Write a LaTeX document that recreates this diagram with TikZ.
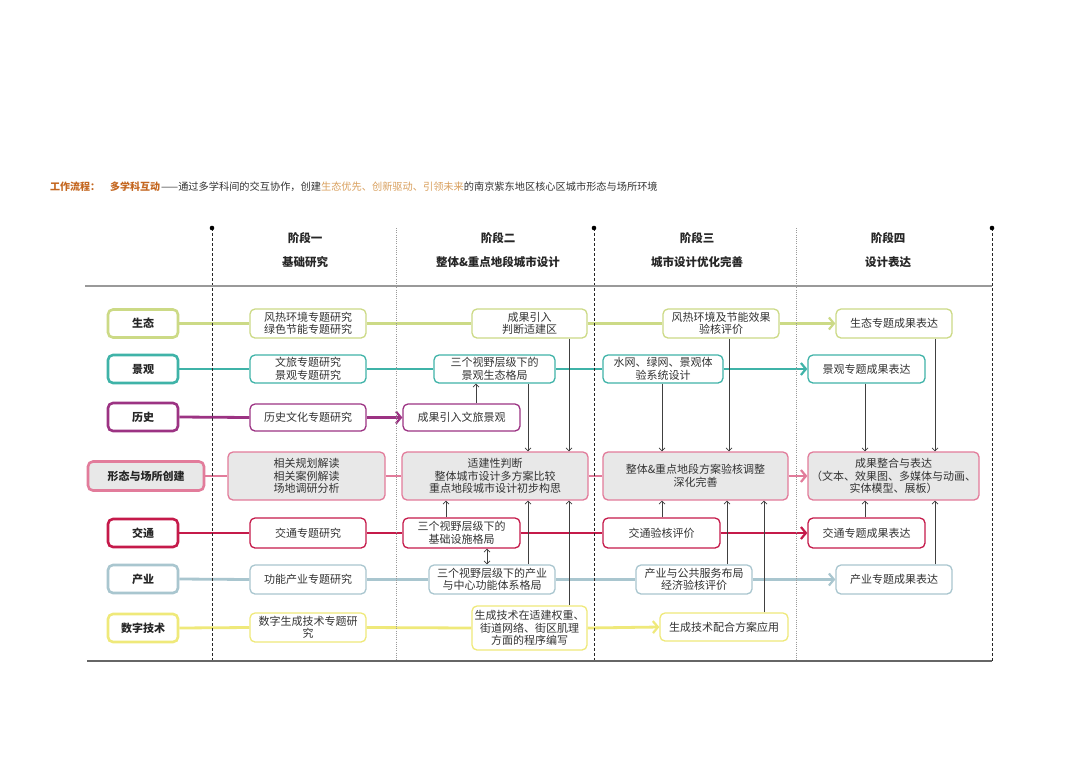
\documentclass[tikz,border=0pt]{standalone}
\usepackage{fontspec}
\setmainfont{Noto Sans CJK SC}
\usetikzlibrary{arrows.meta}
\pgfdeclarelayer{bg}
\pgfsetlayers{bg,main}
\definecolor{cEco}{HTML}{CCDA86}
\definecolor{cLand}{HTML}{3FB3A8}
\definecolor{cHist}{HTML}{9C3383}
\definecolor{cForm}{HTML}{E27C9B}
\definecolor{cTraf}{HTML}{C51A4A}
\definecolor{cInd}{HTML}{A9C6CF}
\definecolor{cDig}{HTML}{EFE97A}
\definecolor{cOr}{HTML}{C4661F}
\definecolor{cOr2}{HTML}{D9A05E}
\definecolor{cTxt}{HTML}{333333}
\begin{document}
\begin{tikzpicture}[x=1pt,y=-1pt,
  lab/.style={draw=#1, line width=2.6pt, rounded corners=5pt, fill=white, minimum width=70pt, minimum height=28pt, font=\bfseries\fontsize{11}{12}\selectfont, text=black!85, inner sep=0pt},
  box/.style={draw=#1, line width=1.3pt, rounded corners=5pt, fill=white, align=center, font=\fontsize{11}{12.5}\selectfont, text=cTxt, inner sep=1pt},
  gbox/.style={box=#1, fill=black!9},
  hl/.style={draw=#1, line width=2.8pt},
  harr/.style={draw=#1, line width=2.8pt, -{Straight Barb[length=5pt,width=12pt,line width=2.2pt]}},
  varr/.style={draw=black!75, line width=0.7pt, -{Straight Barb[length=3pt,width=6pt]}},
  dvarr/.style={draw=black!75, line width=0.7pt, {Straight Barb[length=3pt,width=6pt]}-{Straight Barb[length=3pt,width=6pt]}},
  hdr/.style={font=\bfseries\fontsize{11.5}{13}\selectfont, text=black!85},
  stagedash/.style={draw=black!85, line width=0.8pt, dash pattern=on 3pt off 2pt},
  stagedot/.style={draw=black!40, line width=0.7pt, dash pattern=on 1pt off 1.2pt}
]
\useasboundingbox (0,0) rectangle (1080,764);
\begin{pgfonlayer}{bg}
\fill[white] (0,0) rectangle (1080,764);
\end{pgfonlayer}

% title
\node[anchor=west, font=\bfseries\fontsize{10}{12}\selectfont, text=cOr, inner sep=0pt] (t1) at (50,187) {工作流程：};
\node[anchor=west, font=\bfseries\fontsize{10}{12}\selectfont, text=cOr, inner sep=0pt] (t2) at (110,187) {多学科互动};
\node[anchor=west, font=\fontsize{10.2}{12}\selectfont, text=cTxt, inner sep=0pt] (t3) at (161,187) {——通过多学科间的交互协作，创建\textcolor{cOr2}{生态优先、创新驱动、引领未来}的南京紫东地区核心区城市形态与场所环境};

% stage separators
\draw[stagedash] (212,228) -- (212,662);
\draw[stagedash] (594,228) -- (594,662);
\draw[stagedash] (992,228) -- (992,662);
\draw[stagedot] (396,228) -- (396,662);
\draw[stagedot] (796,228) -- (796,662);
\fill[black] (212,228) circle (2.3);
\fill[black] (594,228) circle (2.3);
\fill[black] (992,228) circle (2.3);
\draw[black!40, line width=1.5pt] (85,286) -- (992,286);
\draw[black!60, line width=1.3pt] (87,661) -- (992,661);

% headers
\node[hdr] (h1a) at (305,238) {阶段一};
\node[hdr] (h1b) at (305,262) {基础研究};
\node[hdr] (h2a) at (498,238) {阶段二};
\node[hdr] (h2b) at (498,262) {整体\&重点地段城市设计};
\node[hdr] (h3a) at (697,238) {阶段三};
\node[hdr] (h3b) at (697,262) {城市设计优化完善};
\node[hdr] (h4a) at (888,238) {阶段四};
\node[hdr] (h4b) at (888,262) {设计表达};

% row labels
\node[lab=cEco] (L1) at (143,323.5) {生态};
\node[lab=cLand] (L2) at (143,369) {景观};
\node[lab=cHist] (L3) at (143,417) {历史};
\node[lab=cForm, fill=black!9, minimum width=116pt, minimum height=29pt] (L4) at (146,476) {形态与场所创建};
\node[lab=cTraf] (L5) at (143,533) {交通};
\node[lab=cInd] (L6) at (143,579) {产业};
\node[lab=cDig] (L7) at (143,628) {数字技术};

% stage 1
\node[box=cEco, minimum width=116pt, minimum height=29pt] (s1a) at (308,323.5) {风热环境专题研究\\绿色节能专题研究};
\node[box=cLand, minimum width=116pt, minimum height=28pt] (s1b) at (308,369) {文旅专题研究\\景观专题研究};
\node[box=cHist, minimum width=116pt, minimum height=27pt] (s1c) at (308,417.5) {历史文化专题研究};
\node[gbox=cForm, minimum width=157pt, minimum height=48pt] (s1d) at (306.5,476) {相关规划解读\\相关案例解读\\场地调研分析};
\node[box=cTraf, minimum width=116pt, minimum height=30pt] (s1e) at (308,533) {交通专题研究};
\node[box=cInd, minimum width=116pt, minimum height=29pt] (s1f) at (308,579.5) {功能产业专题研究};
\node[box=cDig, minimum width=116pt, minimum height=29pt] (s1g) at (308,627.5) {数字生成技术专题研\\究};

% stage 2
\node[box=cEco, minimum width=115pt, minimum height=29pt] (s2a) at (529.5,323.5) {成果引入\\判断适建区};
\node[box=cLand, minimum width=121pt, minimum height=28pt] (s2b) at (494.5,369) {三个视野层级下的\\景观生态格局};
\node[box=cHist, minimum width=117pt, minimum height=27pt] (s2c) at (461.5,417.5) {成果引入文旅景观};
\node[gbox=cForm, minimum width=186pt, minimum height=48pt] (s2d) at (495,476) {适建性判断\\整体城市设计多方案比较\\重点地段城市设计初步构思};
\node[box=cTraf, minimum width=117pt, minimum height=30pt] (s2e) at (461.5,533) {三个视野层级下的\\基础设施格局};
\node[box=cInd, minimum width=126pt, minimum height=29pt] (s2f) at (492,579.5) {三个视野层级下的产业\\与中心功能体系格局};
\node[box=cDig, minimum width=115pt, minimum height=44pt] (s2g) at (529.5,628) {生成技术在适建权重、\\街道网络、街区肌理\\方面的程序编写};

% stage 3
\node[box=cEco, minimum width=116pt, minimum height=29pt] (s3a) at (721,323.5) {风热环境及节能效果\\验核评价};
\node[box=cLand, minimum width=120pt, minimum height=28pt] (s3b) at (663,369) {水网、绿网、景观体\\验系统设计};
\node[gbox=cForm, minimum width=185pt, minimum height=48pt] (s3d) at (695.5,476) {整体\&重点地段方案验核调整\\深化完善};
\node[box=cTraf, minimum width=117pt, minimum height=30pt] (s3e) at (661.5,533) {交通验核评价};
\node[box=cInd, minimum width=116pt, minimum height=29pt] (s3f) at (694,579.5) {产业与公共服务布局\\经济验核评价};
\node[box=cDig, minimum width=128pt, minimum height=28pt] (s3g) at (724,627) {生成技术配合方案应用};

% stage 4
\node[box=cEco, minimum width=116pt, minimum height=29pt] (s4a) at (894,323.5) {生态专题成果表达};
\node[box=cLand, minimum width=117pt, minimum height=28pt] (s4b) at (866.5,369) {景观专题成果表达};
\node[gbox=cForm, minimum width=171pt, minimum height=48pt] (s4d) at (893.5,476) {成果整合与表达\\（文本、效果图、多媒体与动画、\\实体模型、展板）};
\node[box=cTraf, minimum width=117pt, minimum height=30pt] (s4e) at (866.5,533) {交通专题成果表达};
\node[box=cInd, minimum width=116pt, minimum height=29pt] (s4f) at (894,579.5) {产业专题成果表达};

% horizontal flows
\begin{pgfonlayer}{bg}
\draw[hl=cEco] (L1.east) -- (s1a.west);
\draw[hl=cEco] (s1a.east) -- (s2a.west);
\draw[hl=cEco] (s2a.east) -- (s3a.west);
\draw[harr=cEco] (s3a.east) -- (s4a.west);

\draw[hl=cLand] (L2.east) -- (s1b.west);
\draw[hl=cLand] (s1b.east) -- (s2b.west);
\draw[hl=cLand] (s2b.east) -- (s3b.west);
\draw[harr=cLand] (s3b.east) -- (s4b.west);

\draw[hl=cHist] (L3.east) -- (s1c.west);
\draw[harr=cHist] (s1c.east) -- (s2c.west);

\draw[hl=cForm] (L4.east) -- (s1d.west);
\draw[hl=cForm] (s1d.east) -- (s2d.west);
\draw[hl=cForm] (s2d.east) -- (s3d.west);
\draw[harr=cForm] (s3d.east) -- (s4d.west);

\draw[hl=cTraf] (L5.east) -- (s1e.west);
\draw[hl=cTraf] (s1e.east) -- (s2e.west);
\draw[hl=cTraf] (s2e.east) -- (s3e.west);
\draw[harr=cTraf] (s3e.east) -- (s4e.west);

\draw[hl=cInd] (L6.east) -- (s1f.west);
\draw[hl=cInd] (s1f.east) -- (s2f.west);
\draw[hl=cInd] (s2f.east) -- (s3f.west);
\draw[harr=cInd] (s3f.east) -- (s4f.west);

\draw[hl=cDig] (L7.east) -- (s1g.west);
\draw[hl=cDig] (s1g.east) -- (s2g.west);
\draw[harr=cDig] (s2g.east) -- (s3g.west);
\end{pgfonlayer}

% vertical connections, stage 2
\draw[varr] (s2c.north -| 476,0) -- (s2b.south -| 476,0);
\draw[varr] (s2b.south -| 528,0) -- (s2d.north -| 528,0);
\draw[varr] (s2a.south -| 569,0) -- (s2d.north -| 569,0);
\draw[varr] (s2e.north -| 446,0) -- (s2d.south -| 446,0);
\draw[dvarr] (s2e.south -| 487,0) -- (s2f.north -| 487,0);
\draw[varr] (s2f.north -| 528,0) -- (s2d.south -| 528,0);
\draw[varr] (s2g.north -| 569,0) -- (s2d.south -| 569,0);
% stage 3
\draw[varr] (s3a.south -| 729,0) -- (s3d.north -| 729,0);
\draw[varr] (s3b.south -| 662,0) -- (s3d.north -| 662,0);
\draw[varr] (s3e.north -| 662,0) -- (s3d.south -| 662,0);
\draw[varr] (s3f.north -| 727,0) -- (s3d.south -| 727,0);
\draw[varr] (s3g.north -| 764,0) -- (s3d.south -| 764,0);
% stage 4
\draw[varr] (s4a.south -| 935,0) -- (s4d.north -| 935,0);
\draw[varr] (s4b.south -| 865,0) -- (s4d.north -| 865,0);
\draw[varr] (s4e.north -| 865,0) -- (s4d.south -| 865,0);
\draw[varr] (s4f.north -| 935,0) -- (s4d.south -| 935,0);
\end{tikzpicture}
\end{document}
